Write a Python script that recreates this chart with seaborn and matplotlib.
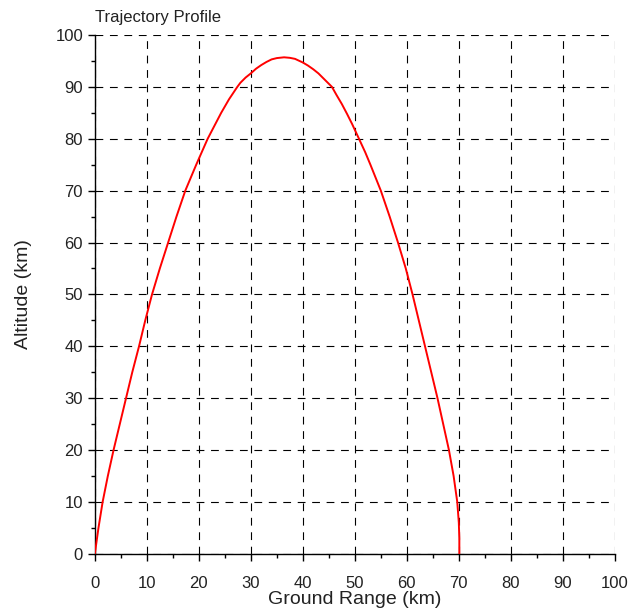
"""
Trajectory profile chart: altitude vs ground range
"""

# ========== SECTION 1: CONFIGURATION ==========
import matplotlib
matplotlib.use("Agg")
import matplotlib.pyplot as plt
import pandas as pd
import seaborn as sns
from matplotlib.ticker import MultipleLocator

sns.set_style("ticks")
plt.rcParams['font.family'] = ['Liberation Sans', 'DejaVu Sans']

# ========== SECTION 2: DATA ==========
ground_range_km = [
    0.0, 0.7, 1.5, 2.5, 3.6, 4.8, 6.0, 7.2, 8.5, 9.7,
    11.0, 12.5, 14.1, 15.7, 17.4, 19.5, 21.7, 24.3, 25.8, 27.4,
    28.0, 29.0, 30.0, 31.0, 32.0, 33.0, 34.0, 35.0, 36.4, 37.5,
    38.5, 40.0, 41.0, 42.0, 43.0, 44.0, 45.6, 46.5, 47.5, 48.5,
    49.5, 50.8, 52.0, 53.0, 54.0, 55.0, 56.7, 58.3, 59.8, 61.1,
    62.3, 63.5, 64.7, 65.9, 67.0, 68.1, 69.0, 69.7, 70.0, 70.1,
    70.1,
]
altitude_km = [
    0, 5, 10, 15, 20, 25, 30, 35, 40, 45,
    50, 55, 60, 65, 70, 75, 80, 85, 87.6, 90,
    90.8, 91.8, 92.6, 93.5, 94.2, 94.8, 95.3, 95.55, 95.7, 95.6,
    95.4, 94.7, 94.1, 93.4, 92.6, 91.6, 90.0, 88.4, 86.7, 84.8,
    82.8, 80, 77.4, 75, 72.5, 70, 65, 60, 55, 50,
    45, 40, 35, 30, 25, 20, 15, 10, 6, 3,
    0,
]

traj = pd.DataFrame({'range': ground_range_km, 'alt': altitude_km})

# ========== SECTION 3: PLOT ==========
fig = plt.figure(figsize=(6.28, 6.14), dpi=100)
ax = fig.add_axes([0.151, 0.098, 0.828, 0.845])

sns.lineplot(data=traj, x='range', y='alt', sort=False, estimator=None,
             color='red', linewidth=1.4, ax=ax, zorder=3)

ax.set_xlim(0, 100)
ax.set_ylim(0, 100)
ax.xaxis.set_major_locator(MultipleLocator(10))
ax.yaxis.set_major_locator(MultipleLocator(10))
ax.xaxis.set_minor_locator(MultipleLocator(5))
ax.yaxis.set_minor_locator(MultipleLocator(5))

ax.grid(True, which='major', color='black', linestyle=(0, (7, 6)), linewidth=0.8)
ax.set_axisbelow(True)

for side in ['top', 'right']:
    ax.spines[side].set_visible(False)
for side in ['left', 'bottom']:
    ax.spines[side].set_color('black')
    ax.spines[side].set_linewidth(1.0)

ax.tick_params(which='major', direction='out', length=5, width=1,
               color='black', labelsize=12, labelcolor='#222222')
ax.tick_params(axis='x', which='major', pad=11)
ax.tick_params(which='minor', direction='out', length=3, width=1, color='black')

ax.set_xlabel('Ground Range (km)', fontsize=14, color='#222222', labelpad=0)
ax.set_ylabel('Altitude (km)', fontsize=14, color='#222222', labelpad=17)
ax.set_title('Trajectory Profile', loc='left', fontsize=12, pad=9, color='#222222')

fig.savefig('out.png', dpi=100, facecolor='white')
